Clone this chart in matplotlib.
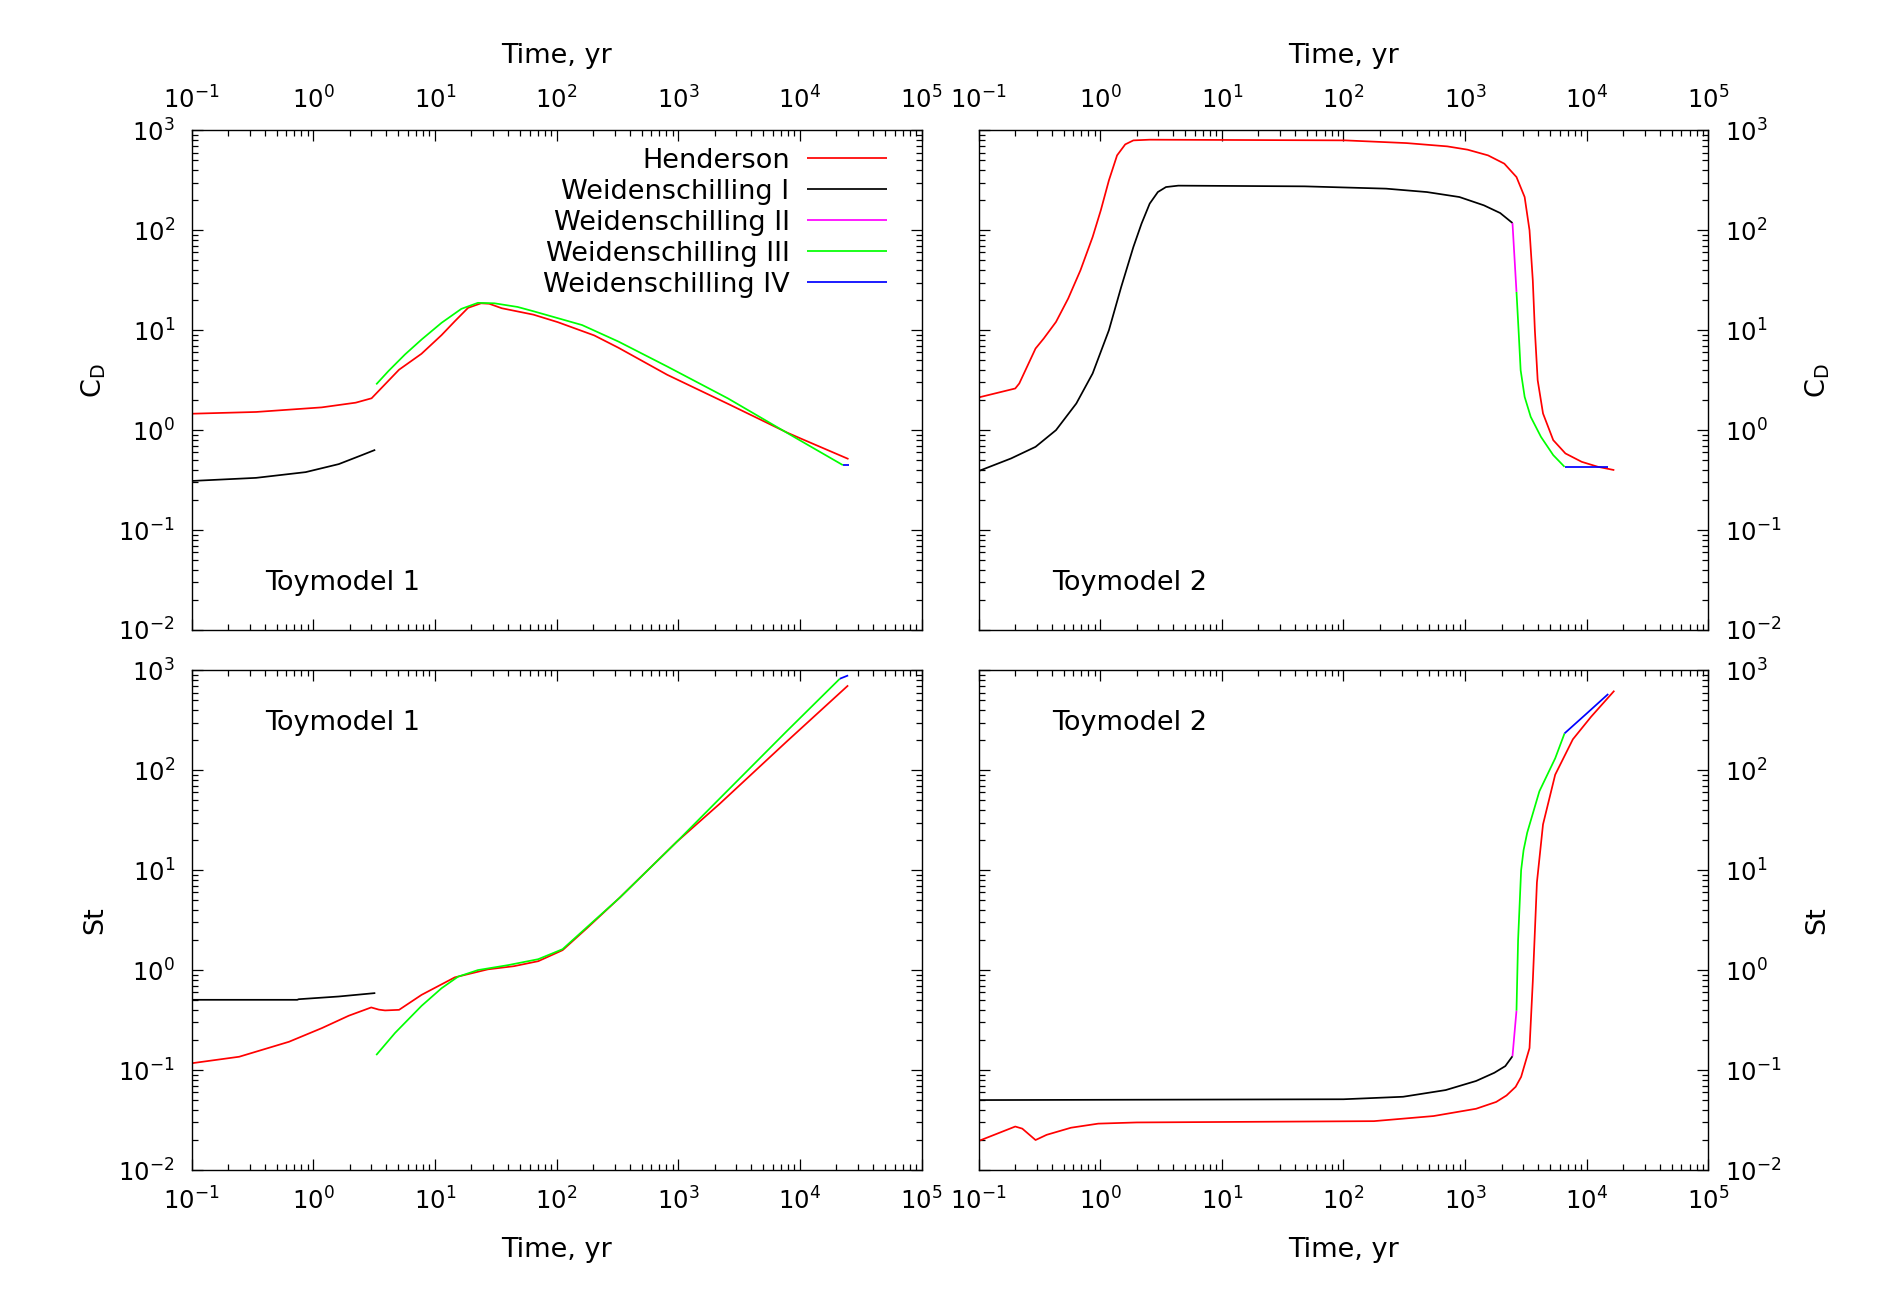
import matplotlib
matplotlib.use("Agg")
import matplotlib.pyplot as plt
from matplotlib.ticker import LogLocator, NullFormatter, LogFormatterSciNotation

# ---------------- data (Time in yr) ----------------
# Toymodel 1, drag coefficient C_D
tm1_cd_hend_t = [0.1, 0.339, 1.175, 2.239, 3.020, 5.08, 7.76, 11.35, 14.59, 18.75, 23.99,
                 28.0, 35.48, 64.57, 102.3, 204.2, 323.6, 812.8, 2570, 7943, 10000, 25120]
tm1_cd_hend = [1.46, 1.52, 1.69, 1.884, 2.084, 4.027, 5.808, 8.933, 12.30, 16.75, 18.6,
               18.4, 16.60, 14.32, 12.05, 8.872, 6.668, 3.581, 1.832, 0.9397, 0.8318, 0.514]
tm1_cd_w1_t = [0.1, 0.339, 0.867, 1.622, 2.512, 3.236]
tm1_cd_w1 = [0.310, 0.333, 0.380, 0.4571, 0.5623, 0.6353]
tm1_cd_w3_t = [3.296, 4.159, 5.689, 7.780, 11.35, 16.52, 22.59, 30.90, 47.86, 64.57, 162.2,
               323.6, 812.8, 2570, 9016, 22590]
tm1_cd_w3 = [2.871, 3.908, 5.728, 8.072, 11.86, 16.37, 18.8, 18.6, 17.10, 15.49, 11.27,
             7.691, 4.335, 2.075, 0.851, 0.4467]
tm1_cd_w4_t = [22590, 25120]
tm1_cd_w4 = [0.4467, 0.4467]

# Toymodel 1, Stokes number St
tm1_st_hend_t = [0.1, 0.2466, 0.6324, 1.183, 1.959, 2.999, 3.467, 3.899, 5.082, 7.780, 14.59,
                 27.29, 44.67, 70.79, 112.2, 177.8, 331.7, 970.5, 2203, 7780, 24950]
tm1_st_hend = [0.1170, 0.1360, 0.1920, 0.2636, 0.3499, 0.4236, 0.4027, 0.3954, 0.4009, 0.5662,
               0.8472, 1.019, 1.096, 1.230, 1.585, 2.630, 5.333, 19.19, 46.45, 193.6, 707.9]
tm1_st_w1_t = [0.1, 0.74, 0.76, 1.62, 3.24]
tm1_st_w1 = [0.505, 0.505, 0.512, 0.545, 0.590]
tm1_st_w3_t = [3.296, 4.710, 7.780, 11.35, 15.52, 22.59, 39.81, 70.79, 112.2, 177.8, 331.7,
               970.5, 2203, 7780, 21330]
tm1_st_w3 = [0.1413, 0.2355, 0.4395, 0.6592, 0.861, 1.002, 1.122, 1.288, 1.622, 2.692, 5.333,
             19.19, 52.48, 245.5, 826.0]
tm1_st_w4_t = [21330, 24950]
tm1_st_w4 = [826.0, 891.0]

# Toymodel 2, drag coefficient C_D
tm2_cd_hend_t = [0.1, 0.2005, 0.2163, 0.2944, 0.3436, 0.4335, 0.5458, 0.6887, 0.8670, 1.012,
                 1.180, 1.377, 1.607, 1.875, 2.553, 103.5, 329.6, 712.8, 1047, 1542, 2099,
                 2642, 3083, 3381, 3597, 3741, 3945, 4365, 5297, 6668, 9078, 12360, 16830]
tm2_cd_hend = [2.123, 2.612, 2.931, 6.561, 8.260, 12.11, 20.75, 39.81, 85.70, 158.5,
               316.2, 562.3, 724.4, 794.3, 807.2, 794.3, 746.4, 691.8, 641.2, 562.3, 464.5,
               341.2, 215.3, 100.0, 31.62, 10.0, 3.162, 1.469, 0.7943, 0.5848, 0.4819, 0.4295,
               0.3981]
tm2_cd_w1_t = [0.1, 0.1854, 0.2944, 0.4335, 0.6368, 0.8670, 1.180, 1.489, 1.875, 2.188, 2.553,
               2.979, 3.475, 4.385, 47.86, 223.9, 484.2, 897.5, 1426, 1941, 2449]
tm2_cd_w1 = [0.3890, 0.5212, 0.6808, 1.0, 1.849, 3.690, 10.0, 27.10, 68.08, 116.7, 184.9,
             241.5, 271.0, 279.9, 275.4, 261.2, 241.5, 215.3, 177.8, 148.9, 118.3]
tm2_cd_w2_t = [2449, 2642]
tm2_cd_w2 = [118.3, 24.15]
tm2_cd_w3_t = [2642, 2748, 2858, 3083, 3459, 4198, 5297, 6561]
tm2_cd_w3 = [24.15, 10.0, 3.981, 2.153, 1.358, 0.8570, 0.5623, 0.4295]
tm2_cd_w4_t = [6561, 15000]
tm2_cd_w4 = [0.4295, 0.4295]

# Toymodel 2, Stokes number St
tm2_st_hend_t = [0.1, 0.2005, 0.2291, 0.2944, 0.3631, 0.5754, 0.9638, 1.995, 177.8, 549.5, 1230,
                 1800, 2188, 2600, 2884, 3381, 3597, 3890, 4365, 5495, 7674, 10840, 16830]
tm2_st_hend = [0.0195, 0.02723, 0.02594, 0.01995, 0.02249, 0.02649, 0.02911, 0.02992, 0.03083,
               0.03467, 0.04102, 0.0480, 0.05572, 0.0680, 0.08551, 0.166, 0.7674, 7.568, 28.77,
               90.36, 204.2, 343.6, 626.6]
tm2_st_w1_t = [0.1, 100, 309, 692, 1230, 1738, 2138, 2449]
tm2_st_w1 = [0.0501, 0.05105, 0.05408, 0.0631, 0.0778, 0.0940, 0.1096, 0.1377]
tm2_st_w2_t = [2449, 2642]
tm2_st_w2 = [0.1377, 0.3936]
tm2_st_w3_t = [2642, 2723, 2884, 3020, 3236, 4074, 5495, 6561]
tm2_st_w3 = [0.3936, 1.995, 10.0, 15.85, 23.77, 61.66, 131.8, 234.4]
tm2_st_w4_t = [6561, 10000, 15000]
tm2_st_w4 = [234.4, 371.5, 580.8]

labels = ["Henderson", "Weidenschilling I", "Weidenschilling II",
          "Weidenschilling III", "Weidenschilling IV"]
colors = ["#ff0000", "#000000", "#ff00ff", "#00ff00", "#0000ff"]

# ---------------- figure ----------------
plt.rcParams['font.family'] = ['DejaVu Sans']
plt.rcParams['axes.linewidth'] = 1.0
fig = plt.figure(figsize=(19, 13), dpi=100)

W, H = 0.3842, 0.3843
axTL = fig.add_axes([0.1008, 0.5154, W, H])
axTR = fig.add_axes([0.5150, 0.5154, W, H])
axBL = fig.add_axes([0.1008, 0.1000, W, H])
axBR = fig.add_axes([0.5150, 0.1000, W, H])

LW = 1.25
TICK_FS = 17.5
LAB_FS = 19.5


def draw(ax, series):
    lines = []
    for (t, v), c in zip(series, colors):
        if t is None:
            lines.append(None)
            continue
        ln, = ax.plot(t, v, color=c, lw=LW, solid_joinstyle='round', solid_capstyle='butt')
        lines.append(ln)
    return lines


lTL = draw(axTL, [(tm1_cd_hend_t, tm1_cd_hend), (tm1_cd_w1_t, tm1_cd_w1), (None, None),
                  (tm1_cd_w3_t, tm1_cd_w3), (tm1_cd_w4_t, tm1_cd_w4)])
lBL = draw(axBL, [(tm1_st_hend_t, tm1_st_hend), (tm1_st_w1_t, tm1_st_w1), (None, None),
                  (tm1_st_w3_t, tm1_st_w3), (tm1_st_w4_t, tm1_st_w4)])
lTR = draw(axTR, [(tm2_cd_hend_t, tm2_cd_hend), (tm2_cd_w1_t, tm2_cd_w1),
                  (tm2_cd_w2_t, tm2_cd_w2), (tm2_cd_w3_t, tm2_cd_w3), (tm2_cd_w4_t, tm2_cd_w4)])
lBR = draw(axBR, [(tm2_st_hend_t, tm2_st_hend), (tm2_st_w1_t, tm2_st_w1),
                  (tm2_st_w2_t, tm2_st_w2), (tm2_st_w3_t, tm2_st_w3), (tm2_st_w4_t, tm2_st_w4)])

for ax in (axTL, axTR, axBL, axBR):
    ax.set_xscale('log')
    ax.set_yscale('log')
    ax.set_xlim(0.1, 1e5)
    ax.set_ylim(1e-2, 1e3)
    for axis in (ax.xaxis, ax.yaxis):
        axis.set_major_locator(LogLocator(base=10, numticks=20))
        axis.set_minor_locator(LogLocator(base=10, subs=range(2, 10), numticks=20))
        axis.set_minor_formatter(NullFormatter())
        axis.set_major_formatter(LogFormatterSciNotation())
    ax.tick_params(which='both', direction='in', top=True, bottom=True, left=True, right=True,
                   labelsize=TICK_FS, width=0.9)
    ax.tick_params(which='major', length=8)
    ax.tick_params(which='minor', length=4)

# top row: labels on top
for ax in (axTL, axTR):
    ax.tick_params(axis='x', labeltop=True, labelbottom=False, pad=12)
    ax.xaxis.set_label_position('top')
    ax.set_xlabel('Time, yr', fontsize=LAB_FS, labelpad=17)
for ax in (axBL, axBR):
    ax.tick_params(axis='x', labeltop=False, labelbottom=True, pad=12.6)
    ax.set_xlabel('Time, yr', fontsize=LAB_FS, labelpad=15.7)

for ax in (axTL, axBL):
    ax.tick_params(axis='y', labelleft=True, labelright=False, pad=12)
for ax in (axTR, axBR):
    ax.tick_params(axis='y', labelleft=False, labelright=True, pad=12)
    ax.yaxis.set_label_position('right')

axTL.set_ylabel(r'C$_\mathregular{D}$', fontsize=LAB_FS, labelpad=7.4)
axTR.set_ylabel(r'C$_\mathregular{D}$', fontsize=LAB_FS, labelpad=16, rotation=90)
axBL.set_ylabel('St', fontsize=LAB_FS, labelpad=7.4)
axBR.set_ylabel('St', fontsize=LAB_FS, labelpad=16, rotation=90)

axTL.text(0.1004, 0.080, 'Toymodel 1', transform=axTL.transAxes, fontsize=LAB_FS, va='baseline')
axTR.text(0.1004, 0.080, 'Toymodel 2', transform=axTR.transAxes, fontsize=LAB_FS, va='baseline')
axBL.text(0.1004, 0.880, 'Toymodel 1', transform=axBL.transAxes, fontsize=LAB_FS, va='baseline')
axBR.text(0.1004, 0.880, 'Toymodel 2', transform=axBR.transAxes, fontsize=LAB_FS, va='baseline')

handles = [lTL[0], lTL[1], lTR[2], lTL[3], lTL[4]]
axTL.legend(handles, labels, loc='upper right', bbox_to_anchor=(0.9532, 0.965),
            frameon=False, markerfirst=False, fontsize=LAB_FS, handlelength=2.95,
            handletextpad=0.66, labelspacing=0.185, borderpad=0, borderaxespad=0)

fig.savefig('out.png', dpi=100)
